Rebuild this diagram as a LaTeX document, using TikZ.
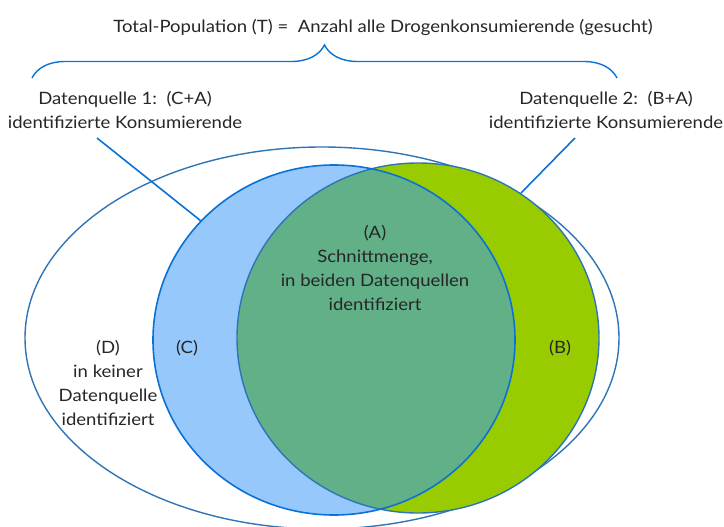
\documentclass[tikz,border=0pt]{standalone}
\usepackage{fontspec}
\setmainfont[FakeStretch=1.09]{Lato}
\usetikzlibrary{decorations.pathreplacing}
\definecolor{lineblue}{HTML}{2E75B6}
\definecolor{brightblue}{HTML}{0A72D6}
\definecolor{lightblue}{HTML}{96C8FC}
\definecolor{limegreen}{HTML}{99CC00}
\definecolor{mixgreen}{HTML}{62B088}
\definecolor{textgray}{HTML}{262626}
\tikzset{
  txt/.style= {text=textgray, font=\fontsize{17}{24}\selectfont, align=center, inner sep=0},
  rim/.style= {draw=lineblue, line width=1.4},
  pointer/.style= {draw=brightblue, line width=1.6},
}

\begin{document}
\begin{tikzpicture}[x=1pt, y=-1pt]
  \useasboundingbox (0,0) rectangle (724,527);

  % whole population
  \draw [rim] (322,338) ellipse [x radius=297, y radius=191];

  % source 1 and source 2
  \fill [lightblue] (334,340) ellipse [x radius=181, y radius=175];
  \fill [limegreen] (418,338) ellipse [x radius=181, y radius=175];
  \begin{scope}
    \clip (334,340) ellipse [x radius=181, y radius=175];
    \fill [mixgreen] (418,338) ellipse [x radius=181, y radius=175];
  \end{scope}
  \draw [rim] (418,338) ellipse [x radius=181, y radius=175];
  \draw [draw=brightblue, line width=1.6] (334,340) ellipse [x radius=181, y radius=175];

  \node [txt] (title) at (383,27) {Total-Population (T) =\ \ Anzahl alle Drogenkonsumierende (gesucht)} ;
  \draw [draw=brightblue, line width=1.4, decorate,
         decoration={brace, amplitude=33}] (32,78) -- (617,78) ;

  \node [txt] (src1) at (125,110) {Datenquelle 1:\ \ (C+A)\\identifizierte Konsumierende} ;
  \node [txt] (src2) at (606,110) {Datenquelle 2:\ \ (B+A)\\identifizierte Konsumierende} ;

  \node [txt] (a) at (375,268) {(A)\\Schnittmenge,\\in beiden Datenquellen\\identifiziert} ;
  \node [txt] (c) at (187,348) {(C)} ;
  \node [txt] (b) at (560,348) {(B)} ;
  \node [txt] (d) at (108,383) {(D)\\in keiner\\Datenquelle\\identifiziert} ;

  \coordinate (src1end) at (201,221) ;
  \coordinate (src2end) at (521,193) ;
  \draw [pointer] (97,138) coordinate (src1tip) -- (src1end) ;
  \draw [pointer] (575,138) coordinate (src2tip) -- (src2end) ;
\end{tikzpicture}
\end{document}
